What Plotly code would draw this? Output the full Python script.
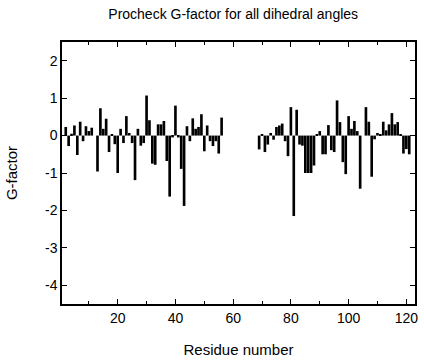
import plotly.graph_objects as go

residues_a = list(range(1, 57))
gfactor_a = [0.0, 0.23, -0.28, 0.05, 0.27, -0.52, 0.37, -0.15, 0.25, 0.12,
             0.21, 0.0, -0.96, 0.73, 0.18, 0.45, -0.44, 0.02, -0.23, -1.0,
             0.18, -0.2, 0.52, 0.07, -0.2, -1.19, 0.18, -0.27, -0.2, 1.07,
             0.41, -0.75, -0.78, 0.3, 0.3, 0.39, -0.68, -1.63, -0.05, 0.8,
             -0.05, -0.89, -1.88, 0.25, -0.15, 0.46, 0.18, 0.23, 0.57, -0.42,
             0.27, -0.15, -0.28, -0.15, -0.48, 0.48]
residues_b = list(range(69, 122))
gfactor_b = [-0.37, 0.03, -0.44, -0.24, 0.07, -0.11, 0.23, 0.27, 0.32, -0.15,
             -0.55, 0.76, -2.15, 0.69, -0.24, -0.27, -1.0, -1.0, -1.0, -0.8,
             0.02, 0.12, -0.5, -0.5, 0.28, -0.39, -0.44, 0.94, 0.36, -0.71,
             -1.03, 0.52, 0.18, 0.39, 0.12, -1.42, 0.0, 0.76, 0.37, -1.1,
             -0.1, 0.07, 0.03, 0.37, 0.14, 0.3, 0.6, 0.3, 0.36, 0.03,
             -0.48, -0.36, -0.5]

x_ticks = [20, 40, 60, 80, 100, 120]
y_ticks = [2, 1, 0, -1, -2, -3, -4]

residues = residues_a + residues_b
gfactor = gfactor_a + gfactor_b

FONT = "Liberation Sans, Arial, Helvetica, sans-serif"

fig = go.Figure(go.Bar(x=residues, y=gfactor, width=0.92,
                       marker=dict(color="black", line=dict(width=0))))

fig.update_layout(
    width=424, height=360,
    margin=dict(l=62, r=9, t=42, b=56),
    plot_bgcolor="white", paper_bgcolor="white",
    showlegend=False,
    font=dict(family=FONT, size=14, color="black"),
    title=dict(text="Procheck G-factor for all dihedral angles",
               x=0.55, xanchor="center", y=0.975, yanchor="top",
               font=dict(family=FONT, size=14, color="black")),
)
fig.update_xaxes(
    range=[0.7, 123], tickvals=x_ticks, ticktext=[str(v) for v in x_ticks],
    ticks="inside", ticklen=5, tickcolor="black", tickwidth=1,
    minor=dict(dtick=10, tick0=0, ticks="inside", ticklen=3, tickcolor="black"),
    showline=True, linecolor="black", linewidth=1.5, mirror="ticks",
    showgrid=False, zeroline=False, automargin=False,
    title=dict(text="Residue number", standoff=20, font=dict(size=15)),
    tickfont=dict(size=14),
)
fig.update_yaxes(
    range=[-4.5, 2.5], tickvals=y_ticks, ticktext=[str(v) for v in y_ticks],
    ticks="inside", ticklen=5, tickcolor="black", tickwidth=1,
    showline=True, linecolor="black", linewidth=1.5, mirror="ticks",
    showgrid=False, zeroline=False, automargin=False,
    title=dict(text="G-factor", standoff=24, font=dict(size=15)),
    tickfont=dict(size=14),
)

fig.write_html("out.html", config={"displayModeBar": False},
               post_script="document.body.style.margin='0';document.body.style.overflow='hidden';")
